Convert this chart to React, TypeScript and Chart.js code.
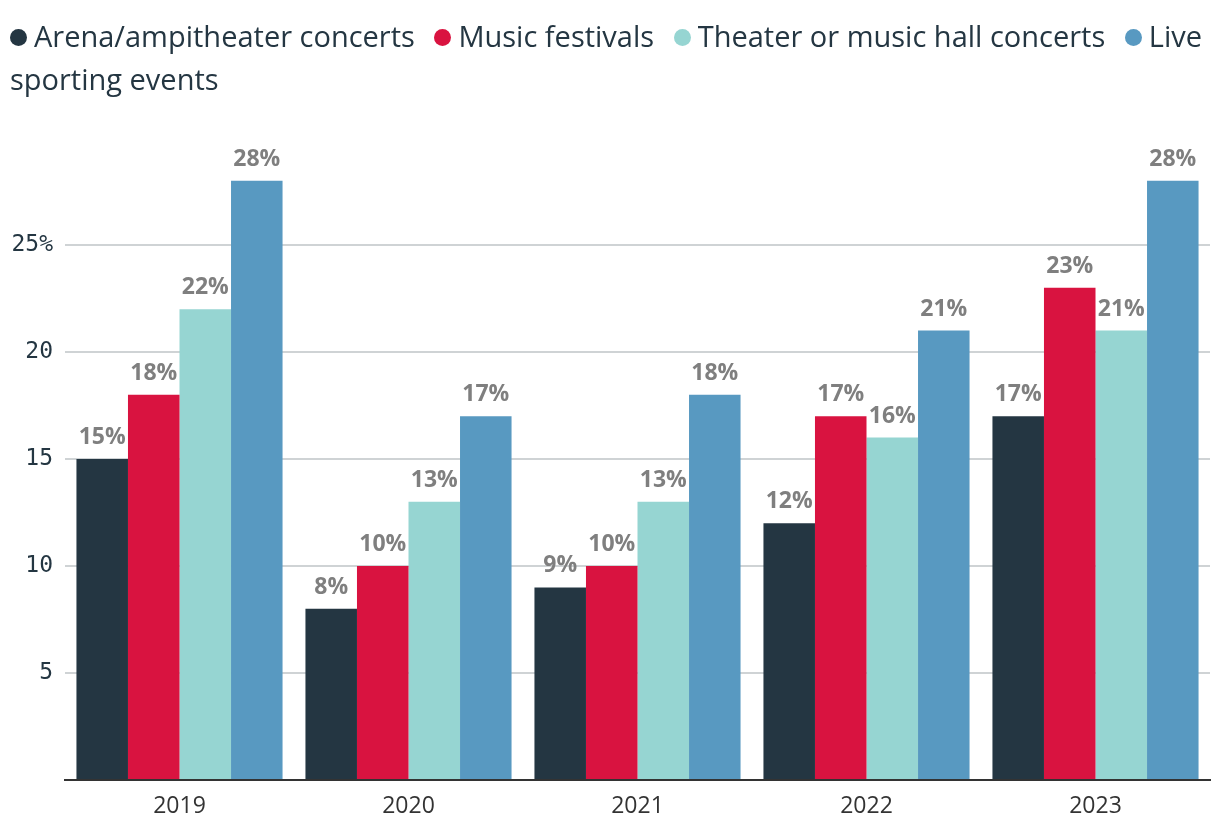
import React, { useEffect, useRef } from "react";
import { Chart, registerables } from "chart.js";

Chart.register(...registerables);

const years = ["2019", "2020", "2021", "2022", "2023"];
const seriesNames = [
  "Arena/ampitheater concerts",
  "Music festivals",
  "Theater or music hall concerts",
  "Live sporting events",
];
const arena = [15, 8, 9, 12, 17];
const festivals = [18, 10, 10, 17, 23];
const theater = [22, 13, 13, 16, 21];
const sports = [28, 17, 18, 21, 28];
const colors = ["#243642", "#D91340", "#96D5D2", "#5899C1"];
const yTicks = [5, 10, 15, 20, 25];

const FONT = "'Open Sans', 'Noto Sans', sans-serif";

const labelPlugin = {
  id: "barLabels",
  afterDatasetsDraw(chart: any) {
    const ctx = chart.ctx;
    ctx.save();
    ctx.font = `bold 23px ${FONT}`;
    ctx.fillStyle = "#7f7f7f";
    ctx.textAlign = "center";
    ctx.textBaseline = "alphabetic";
    chart.data.datasets.forEach((ds: any, i: number) => {
      const meta = chart.getDatasetMeta(i);
      meta.data.forEach((el: any, j: number) => {
        ctx.fillText(`${ds.data[j]}%`, el.x, el.y - 15);
      });
    });
    ctx.restore();
  },
};

export default function App() {
  const ref = useRef<HTMLCanvasElement>(null);
  useEffect(() => {
    document.body.style.margin = "0";
    const allData = [arena, festivals, theater, sports];
    const chart = new Chart(ref.current!, {
      type: "bar",
      data: {
        labels: years,
        datasets: seriesNames.map((name, i) => ({
          label: name,
          data: allData[i],
          backgroundColor: colors[i],
          borderWidth: 0,
          barPercentage: 1,
          categoryPercentage: 0.9,
        })),
      },
      options: {
        animation: false,
        responsive: false,
        layout: { padding: { top: 138, right: 10, left: 0, bottom: 0 } },
        plugins: {
          legend: { display: false },
          tooltip: { enabled: false },
        },
        scales: {
          x: {
            grid: { display: false },
            border: { display: true, color: "#333333", width: 2 },
            ticks: {
              color: "#333333",
              font: { family: FONT, size: 23 },
              padding: 5,
            },
            afterFit: (s: any) => {
              s.height = 58;
            },
          },
          y: {
            min: 0,
            max: 30,
            z: 1,
            afterBuildTicks: (s: any) => {
              s.ticks = [0, ...yTicks, 30].map((v) => ({ value: v }));
            },
            afterFit: (s: any) => {
              s.width = 65;
            },
            border: { display: false },
            grid: {
              drawTicks: false,
              color: (c: any) =>
                c.tick && (c.tick.value === 0 || c.tick.value === 30)
                  ? "rgba(0,0,0,0)"
                  : "rgba(36,54,66,0.22)",
              lineWidth: 2,
            },
            ticks: {
              color: "#243642",
              padding: 12,
              font: { family: "'DejaVu Sans Mono', monospace", size: 23 },
              callback: (v: any) =>
                v === 0 || v === 30 ? "" : v === 25 ? "25%" : String(v),
            },
          },
        },
      },
      plugins: [labelPlugin],
    });
    return () => chart.destroy();
  }, []);

  return (
    <div style={{ position: "relative", width: 1220, height: 838, background: "#fff" }}>
      <canvas
        ref={ref}
        width={1220}
        height={838}
        style={{ position: "absolute", left: 0, top: 0, width: 1220, height: 838 }}
      />
      <div
        style={{
          position: "absolute",
          left: 10,
          top: 14,
          width: 1205,
          fontFamily: FONT,
          fontSize: 29,
          lineHeight: "43px",
          color: "#243642",
        }}
      >
        {seriesNames.map((n, i) => (
          <span key={n}>
            <span
              style={{
                display: "inline-block",
                width: 17,
                height: 17,
                borderRadius: 9,
                background: colors[i],
                marginRight: 7,
                verticalAlign: "middle",
                position: "relative",
                top: -2,
              }}
            />
            {n}
            {i < seriesNames.length - 1 ? <span style={{ marginRight: 12 }}> </span> : null}
          </span>
        ))}
      </div>
    </div>
  );
}
